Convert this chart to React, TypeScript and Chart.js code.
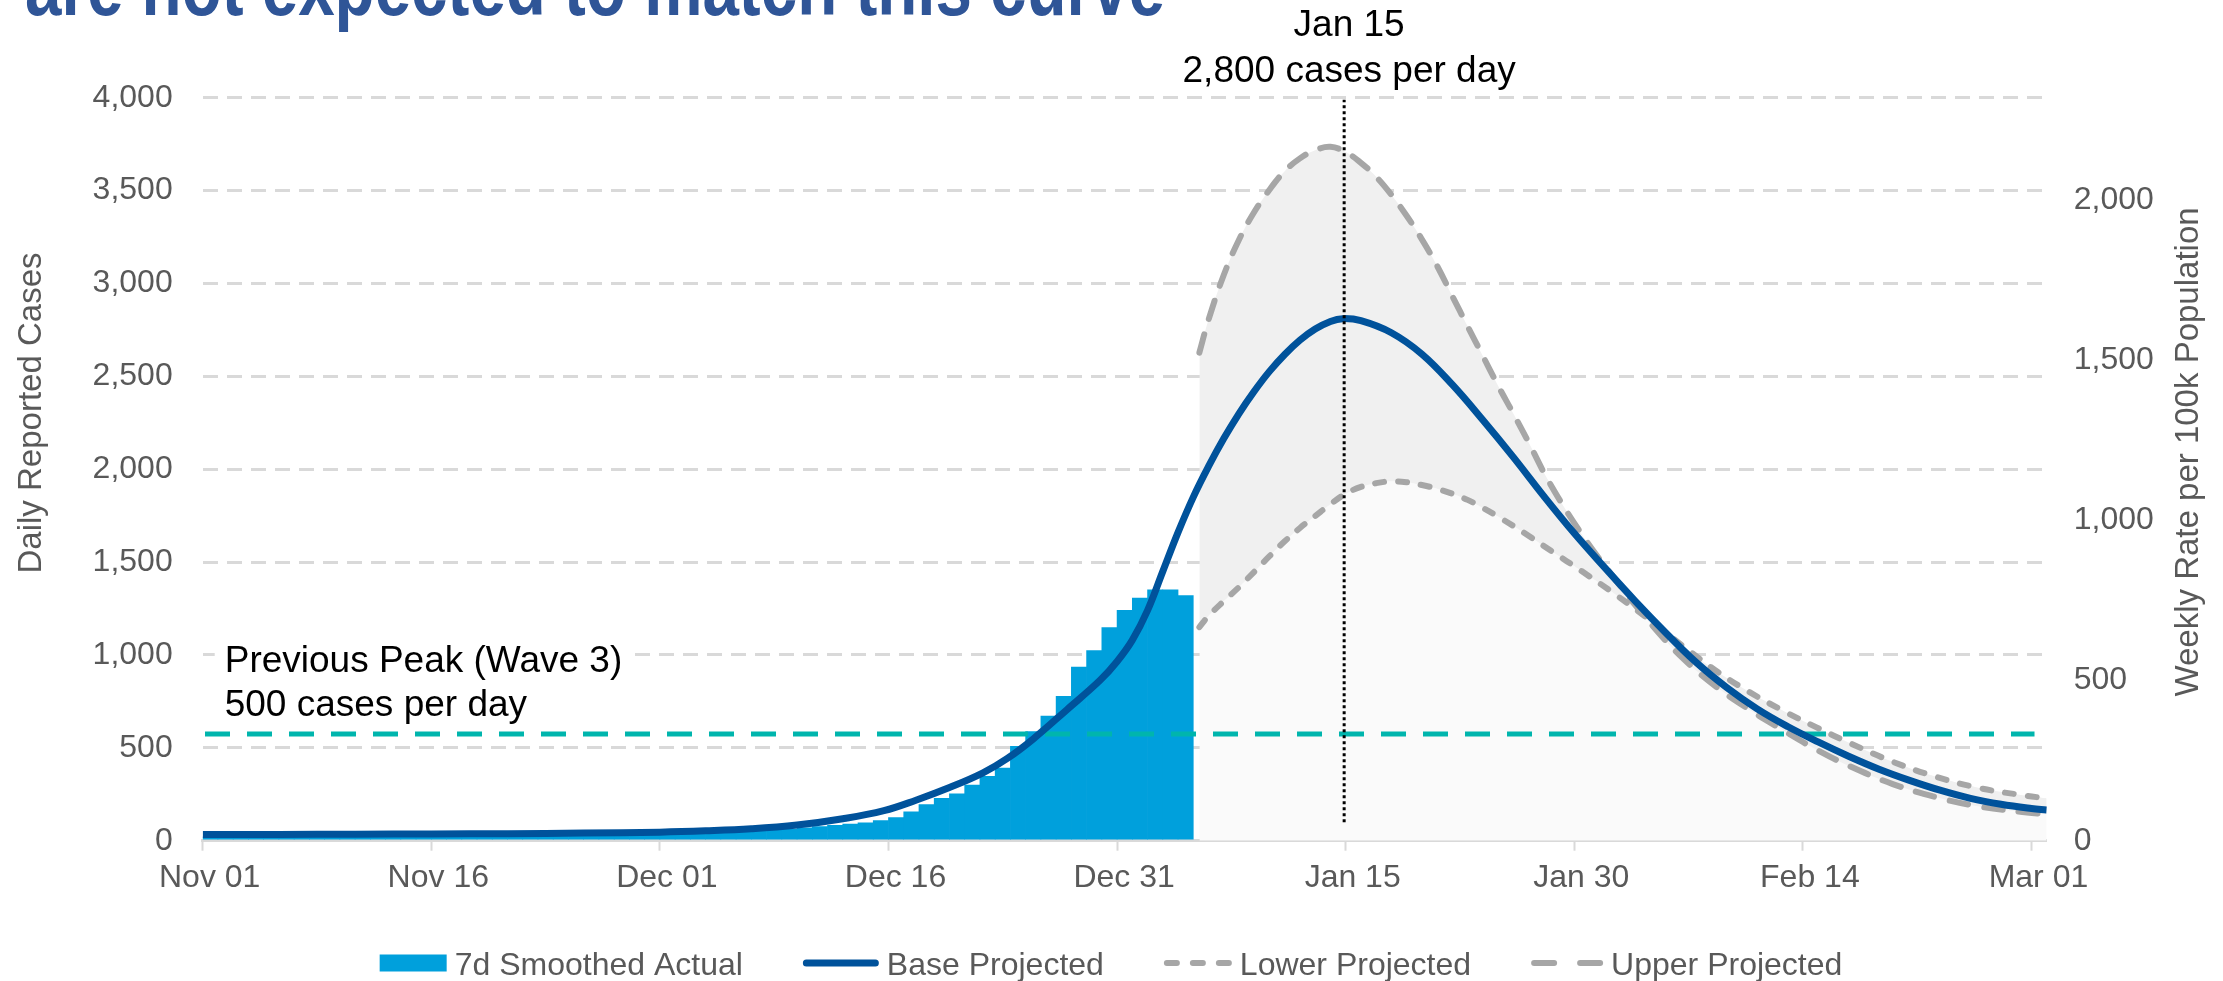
import React, { useEffect, useRef } from 'react';
import { Chart, registerables } from 'chart.js';

Chart.register(...registerables);

// ---------------- data ----------------
const xTickLabels = ['Nov 01', 'Nov 16', 'Dec 01', 'Dec 16', 'Dec 31', 'Jan 15', 'Jan 30', 'Feb 14', 'Mar 01'];
const tickStepDays = 15;
const xMaxDay = 121;

// 7d smoothed actual, one value per day starting Nov 01
const actualSmoothed = [
  21, 21, 21, 22, 22, 22, 22, 23, 23, 23,
  24, 24, 24, 25, 25, 25, 26, 26, 27, 27,
  28, 28, 29, 29, 30, 31, 31, 32, 33, 34,
  35, 37, 39, 41, 44, 47, 51, 56, 62, 69,
  76, 83, 90, 96, 108, 124, 155, 194, 228, 252,
  299, 346, 391, 508, 587, 671, 778, 935, 1024, 1147,
  1241, 1306, 1351, 1351, 1320,
];

// Base projection (days since Nov 01)
const baseDays = [0, 5, 10, 15, 20, 25, 30, 33, 36, 39, 42, 44.7, 46.8, 49, 51.2, 52.8, 54.5, 56.7, 58.9, 60, 61, 62, 63, 64, 65, 66, 67, 68, 69, 70, 71, 72, 73, 74, 74.8, 76, 78, 80, 82, 84, 86, 88, 90, 92, 94, 96, 98, 100, 102, 104, 106, 108, 110, 112, 114, 116, 118, 120, 121];
const baseProjected = [33, 34, 35, 36, 38, 41, 46, 53, 64, 84, 118, 162, 218, 286, 365, 443, 548, 705, 865, 965, 1080, 1240, 1450, 1660, 1850, 2015, 2165, 2300, 2420, 2527, 2618, 2695, 2755, 2796, 2811, 2800, 2735, 2620, 2455, 2265, 2065, 1855, 1655, 1470, 1290, 1120, 960, 825, 710, 615, 532, 455, 385, 325, 272, 228, 196, 173, 165];

// Lower / upper projections
const projDays = [65.4, 66, 67, 68, 69, 70, 71, 72, 73, 74, 75, 76, 77, 78, 79, 80, 81, 82, 83, 84, 85, 86, 87, 88.4, 90.6, 92.8, 95, 97.1, 99.3, 101.5, 103.7, 105.9, 108.1, 110.9, 113.7, 116.5, 119.4, 121];
const upperProjected = [2628, 2805, 3046, 3236, 3385, 3505, 3605, 3674, 3718, 3736, 3708, 3650, 3575, 3478, 3365, 3238, 3095, 2932, 2770, 2610, 2450, 2300, 2145, 1924, 1637, 1395, 1170, 985, 830, 705, 595, 490, 400, 305, 235, 185, 155, 142];
const lowerProjected = [1150, 1210, 1290, 1365, 1448, 1532, 1612, 1684, 1748, 1812, 1868, 1905, 1925, 1935, 1930, 1915, 1895, 1868, 1835, 1792, 1745, 1695, 1642, 1565, 1445, 1320, 1185, 1050, 915, 800, 700, 610, 525, 425, 345, 285, 245, 228];

const previousPeakCases = 575;
const previousPeakSpan = [0.15, 120.2];
const peakDay = 74.9;
const peakMarkerSpan = [100, 3990];

const leftMax = 4000;
const rightMax = 2318;
const yStep = 500;
const rightTicks = [0, 500, 1000, 1500, 2000];

const seriesNames = ['7d Smoothed Actual', 'Base Projected', 'Lower Projected', 'Upper Projected'];
const titleText = 'are not expected to match this curve';
const peakNoteLines = ['Jan 15', '2,800 cases per day'];
const prevPeakNoteLines = ['Previous Peak (Wave 3)', '500 cases per day'];
const leftAxisTitle = 'Daily Reported Cases';
const rightAxisTitle = 'Weekly Rate per 100k Population';

// ---------------- styles ----------------
const FONT = '"Liberation Sans", Arial, sans-serif';
const GRAY = '#595959';
const BAR = '#00A0DC';
const BLUE = '#00529B';
const DASH = '#A6A6A6';
const TEAL = '#00B5AD';
const GRID = '#D9D9D9';

const toXY = (xs: number[], ys: number[]) => xs.map((x, i) => ({ x, y: ys[i] }));

const decorPlugin = {
  id: 'decor',
  afterDraw(chart: any) {
    const ctx = chart.ctx as CanvasRenderingContext2D;
    const xs = chart.scales.x;
    const ys = chart.scales.y;
    ctx.save();

    // slide title (cut off at top)
    ctx.fillStyle = '#2F5597';
    ctx.font = 'bold 84px "Liberation Sans Narrow", "Liberation Sans", Arial, sans-serif';
    ctx.textAlign = 'left';
    ctx.textBaseline = 'alphabetic';
    const tw = ctx.measureText(titleText).width;
    ctx.save();
    ctx.translate(25, 15);
    ctx.scale(1140 / tw, 1);
    ctx.fillText(titleText, 0, 0);
    ctx.restore();

    // axis titles
    ctx.fillStyle = GRAY;
    ctx.font = `33px ${FONT}`;
    ctx.textAlign = 'center';
    ctx.textBaseline = 'middle';
    ctx.save();
    ctx.translate(32, 413);
    ctx.rotate(-Math.PI / 2);
    ctx.fillText(leftAxisTitle, 0, 0);
    ctx.restore();
    ctx.save();
    ctx.translate(2189, 452);
    ctx.rotate(-Math.PI / 2);
    ctx.fillText(rightAxisTitle, 0, 0);
    ctx.restore();

    // peak annotation
    ctx.fillStyle = '#000';
    ctx.font = `37px ${FONT}`;
    ctx.textAlign = 'center';
    ctx.textBaseline = 'alphabetic';
    const px = xs.getPixelForValue(peakDay) + 5;
    ctx.fillText(peakNoteLines[0], px, 36);
    ctx.fillText(peakNoteLines[1], px, 81.7);

    // previous peak annotation
    const ty = ys.getPixelForValue(previousPeakCases);
    const lx = xs.getPixelForValue(0) + 22;
    ctx.textAlign = 'left';
    const w = Math.max(...prevPeakNoteLines.map((s) => ctx.measureText(s).width));
    ctx.fillStyle = '#fff';
    ctx.fillRect(lx - 10, ty - 96, w + 16, 86);
    ctx.fillStyle = '#000';
    ctx.fillText(prevPeakNoteLines[0], lx, ty - 61.5);
    ctx.fillText(prevPeakNoteLines[1], lx, ty - 17.5);

    // legend
    ctx.font = `32px ${FONT}`;
    const swatchW = [67, 76, 68, 72];
    const gapSwatch = 8;
    const gapItem = 60;
    const textW = seriesNames.map((s) => ctx.measureText(s).width);
    let total = 0;
    seriesNames.forEach((_, i) => {
      total += swatchW[i] + gapSwatch + textW[i];
      if (i > 0) total += gapItem;
    });
    let cx = 1111 - total / 2;
    const cy = 963;
    ctx.lineCap = 'round';
    seriesNames.forEach((name, i) => {
      if (i === 0) {
        ctx.fillStyle = BAR;
        ctx.fillRect(cx, cy - 8.5, swatchW[i], 17);
      } else if (i === 1) {
        ctx.strokeStyle = BLUE;
        ctx.lineWidth = 7;
        ctx.beginPath();
        ctx.moveTo(cx + 3.5, cy);
        ctx.lineTo(cx + swatchW[i] - 3.5, cy);
        ctx.stroke();
      } else if (i === 2) {
        ctx.strokeStyle = DASH;
        ctx.lineWidth = 6;
        for (let k = 0; k < 3; k++) {
          const s = cx + k * 26;
          ctx.beginPath();
          ctx.moveTo(s + 3, cy);
          ctx.lineTo(s + 13, cy);
          ctx.stroke();
        }
      } else {
        ctx.strokeStyle = DASH;
        ctx.lineWidth = 6;
        for (let k = 0; k < 2; k++) {
          const s = cx + k * 46;
          ctx.beginPath();
          ctx.moveTo(s + 3, cy);
          ctx.lineTo(s + 23, cy);
          ctx.stroke();
        }
      }
      cx += swatchW[i] + gapSwatch;
      ctx.fillStyle = GRAY;
      ctx.textAlign = 'left';
      ctx.textBaseline = 'alphabetic';
      ctx.fillText(name, cx, 975);
      cx += textW[i] + gapItem;
    });

    ctx.restore();
  },
};

export default function App() {
  const canvasRef = useRef<HTMLCanvasElement | null>(null);

  useEffect(() => {
    const canvas = canvasRef.current;
    if (!canvas) return;
    Chart.defaults.font.family = FONT;

    const chart = new Chart(canvas, {
      type: 'line',
      data: {
        datasets: [
          {
            type: 'bar',
            label: seriesNames[0],
            data: actualSmoothed.map((v, i) => ({ x: i + 0.5, y: v })),
            backgroundColor: BAR,
            borderWidth: 0,
            barPercentage: 1,
            categoryPercentage: 1,
            yAxisID: 'y',
            order: 5,
          } as any,
          {
            type: 'line',
            label: seriesNames[3],
            data: toXY(projDays, upperProjected),
            borderColor: DASH,
            borderWidth: 6,
            borderDash: [19, 16],
            borderCapStyle: 'round',
            backgroundColor: '#F0F0F0',
            fill: '+1',
            pointRadius: 0,
            tension: 0.4,
            yAxisID: 'y',
            order: 3,
          },
          {
            type: 'line',
            label: seriesNames[2],
            data: toXY(projDays, lowerProjected),
            borderColor: DASH,
            borderWidth: 6,
            borderDash: [9, 14],
            borderCapStyle: 'round',
            backgroundColor: '#FAFAFA',
            fill: 'origin',
            pointRadius: 0,
            tension: 0.4,
            yAxisID: 'y',
            order: 3,
          },
          {
            type: 'line',
            label: seriesNames[1],
            data: toXY(baseDays, baseProjected),
            borderColor: BLUE,
            borderWidth: 7,
            pointRadius: 0,
            fill: false,
            tension: 0.4,
            yAxisID: 'y',
            order: 1,
          },
          {
            type: 'line',
            label: 'Previous Peak',
            data: previousPeakSpan.map((x) => ({ x, y: previousPeakCases })),
            borderColor: TEAL,
            borderWidth: 5,
            borderDash: [25, 17],
            pointRadius: 0,
            fill: false,
            yAxisID: 'y',
            order: 2,
          },
          {
            type: 'line',
            label: 'Peak marker',
            data: peakMarkerSpan.map((y) => ({ x: peakDay, y })),
            borderColor: '#000',
            borderWidth: 3,
            borderDash: [3, 3],
            pointRadius: 0,
            fill: false,
            tension: 0,
            yAxisID: 'y',
            order: 0,
          },
        ],
      },
      options: {
        responsive: false,
        animation: false,
        events: [],
        layout: { padding: { top: 97.8, left: 0, right: 0, bottom: 0 } },
        plugins: {
          legend: { display: false },
          tooltip: { enabled: false },
          filler: { drawTime: 'beforeDatasetsDraw', propagate: false },
        } as any,
        scales: {
          x: {
            type: 'linear',
            min: 0,
            max: xMaxDay,
            offset: false,
            afterFit: (s: any) => { s.height = 140.3; },
            grid: {
              display: true,
              offset: false,
              drawOnChartArea: false,
              drawTicks: true,
              tickLength: 10,
              tickColor: GRID,
              tickWidth: 2,
            },
            border: { display: true, color: GRID, width: 3 },
            ticks: {
              stepSize: tickStepDays,
              includeBounds: false,
              autoSkip: false,
              maxRotation: 0,
              minRotation: 0,
              padding: 8,
              labelOffset: 7,
              color: GRAY,
              font: { size: 32, family: FONT },
              callback: (v: any) => {
                const idx = Math.round(Number(v) / tickStepDays);
                return xTickLabels[idx] ?? '';
              },
            },
          },
          y: {
            type: 'linear',
            position: 'left',
            min: 0,
            max: leftMax,
            afterFit: (s: any) => { s.width = 202.7; },
            grid: {
              color: (c: any) => (c.tick && c.tick.value === 0 ? 'rgba(0,0,0,0)' : GRID),
              lineWidth: 3,
              drawTicks: false,
            },
            border: { display: false, dash: [15, 9] },
            ticks: {
              stepSize: yStep,
              includeBounds: false,
              padding: 30,
              color: GRAY,
              font: { size: 32, family: FONT },
              callback: (v: any) => Number(v).toLocaleString('en-US'),
            },
          },
          y2: {
            type: 'linear',
            position: 'right',
            min: 0,
            max: rightMax,
            afterFit: (s: any) => { s.width = 2223 - 2046.7; },
            afterBuildTicks: (s: any) => { s.ticks = rightTicks.map((value) => ({ value })); },
            grid: { display: false, drawOnChartArea: false, drawTicks: false },
            border: { display: false },
            ticks: {
              padding: 27,
              color: GRAY,
              font: { size: 32, family: FONT },
              callback: (v: any) => Number(v).toLocaleString('en-US'),
            },
          },
        },
      } as any,
      plugins: [decorPlugin],
    });

    return () => chart.destroy();
  }, []);

  return (
    <div style={{ position: 'fixed', left: 0, top: 0, width: 2223, height: 981, background: '#fff' }}>
      <canvas ref={canvasRef} width={2223} height={981} style={{ display: 'block', width: 2223, height: 981 }} />
    </div>
  );
}
